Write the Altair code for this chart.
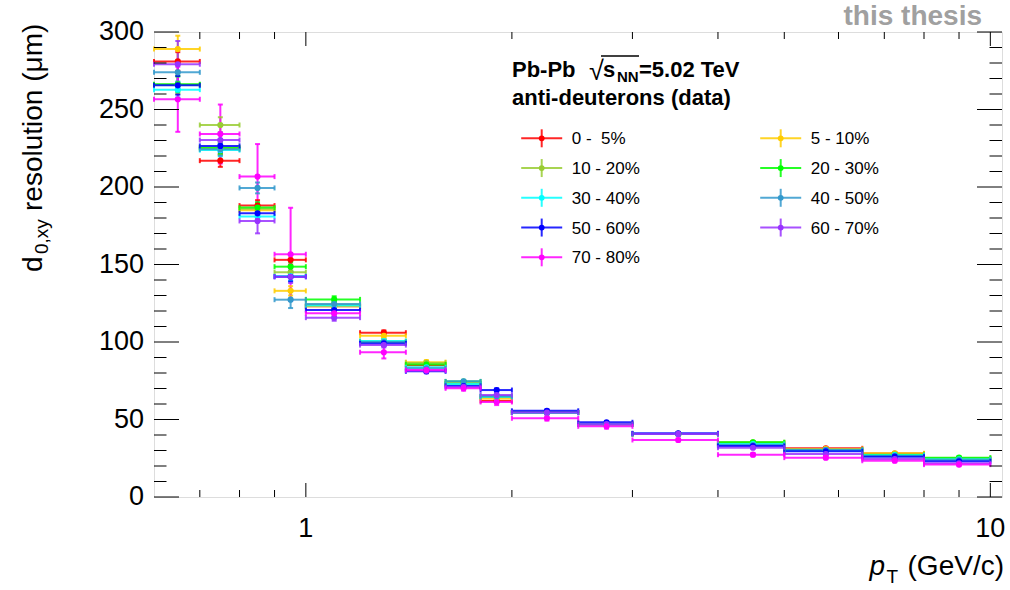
import altair as alt
import pandas as pd

# ---------------- data ----------------
edges = [0.6, 0.7, 0.8, 0.9, 1.0, 1.2, 1.4, 1.6, 1.8, 2.0, 2.5, 3.0, 4.0, 5.0, 6.5, 8.0, 10.0]

series = ["0-5", "5-10", "10-20", "20-30", "30-40", "40-50", "50-60", "60-70", "70-80"]
legend_labels = ["\u00a00 -\u00a0\u00a05%", "\u00a05 - 10%", "10 - 20%", "20 - 30%", "30 - 40%",
                 "40 - 50%", "50 - 60%", "60 - 70%", "70 - 80%"]
colors = ["#ff0000", "#ffcc00", "#99cc33", "#00ff00", "#00ffff",
          "#3399cc", "#0000ff", "#9933ff", "#ff00ff"]

y_0_5 = [281.0, 217.0, 188.0, 153.0, 123.0, 106.0, 85.0, 73.0, 62.0, 54.5, 47.0, 40.7, 34.5, 31.4, 28.0, 24.5]
y_5_10 = [289.0, 225.0, 185.0, 133.0, 123.0, 104.0, 87.0, 73.0, 63.5, 54.5, 47.0, 40.7, 35.0, 31.0, 28.2, 24.5]
y_10_20 = [266.0, 240.0, 186.0, 145.0, 124.0, 100.5, 86.5, 73.0, 64.5, 54.5, 47.0, 40.7, 35.3, 30.5, 27.5, 25.0]
y_20_30 = [266.3, 225.4, 186.7, 148.6, 127.5, 100.0, 85.5, 74.5, 65.0, 54.6, 47.0, 40.7, 35.3, 30.3, 27.1, 25.4]
y_30_40 = [262.8, 223.8, 180.9, 142.5, 123.5, 100.6, 83.7, 72.9, 64.7, 54.4, 46.9, 40.7, 34.2, 30.0, 27.0, 24.3]
y_40_50 = [274.0, 224.3, 199.4, 127.3, 124.5, 100.0, 83.0, 74.6, 65.0, 54.4, 46.9, 40.7, 33.5, 30.5, 26.5, 24.0]
y_50_60 = [265.6, 226.5, 183.0, 142.1, 120.6, 99.1, 81.1, 71.6, 69.0, 55.6, 48.2, 41.1, 32.9, 29.5, 26.0, 23.0]
y_60_70 = [279.2, 230.3, 178.1, 142.1, 115.7, 98.0, 81.5, 71.0, 65.8, 54.5, 47.0, 40.7, 31.8, 27.7, 24.5, 21.7]
y_70_80 = [256.6, 234.2, 206.7, 156.6, 118.5, 93.4, 81.9, 70.1, 61.3, 50.8, 45.6, 36.8, 27.3, 25.4, 23.4, 20.9]

e_0_5 = [6.0, 4.0, 3.5, 3.0, 2.0, 1.5, 1.2, 1.0, 1.0, 0.8, 0.7, 0.6, 0.6, 0.6, 0.6, 0.7]
e_5_10 = [8.6, 4.0, 3.5, 3.0, 2.0, 1.5, 1.2, 1.0, 1.0, 0.8, 0.7, 0.6, 0.6, 0.6, 0.6, 0.7]
e_10_20 = [6.0, 5.0, 3.5, 3.0, 2.0, 1.5, 1.2, 1.0, 1.0, 0.8, 0.7, 0.6, 0.6, 0.6, 0.6, 0.7]
e_20_30 = [5.0, 4.0, 3.5, 3.0, 2.0, 1.5, 1.2, 1.0, 1.0, 0.8, 0.7, 0.6, 0.6, 0.6, 0.6, 0.7]
e_30_40 = [5.0, 4.0, 3.5, 3.0, 2.0, 1.5, 1.2, 1.0, 1.0, 0.8, 0.7, 0.6, 0.6, 0.6, 0.6, 0.7]
e_40_50 = [6.0, 4.0, 3.5, 5.4, 2.0, 1.5, 1.2, 1.0, 1.0, 0.8, 0.7, 0.6, 0.6, 0.6, 0.6, 0.7]
e_50_60 = [6.0, 4.0, 3.5, 3.0, 2.0, 1.5, 1.2, 1.0, 1.0, 0.8, 0.7, 0.6, 0.6, 0.6, 0.6, 0.7]
e_60_70 = [15.0, 5.0, 8.0, 4.0, 2.0, 1.5, 1.2, 1.0, 1.0, 0.8, 0.7, 0.6, 0.6, 0.6, 0.6, 0.7]
e_70_80 = [21.0, 19.0, 21.0, 30.0, 3.0, 4.0, 2.0, 1.5, 2.0, 1.5, 1.5, 1.0, 1.0, 1.0, 1.0, 1.0]

values = [y_0_5, y_5_10, y_10_20, y_20_30, y_30_40, y_40_50, y_50_60, y_60_70, y_70_80]
errors = [e_0_5, e_5_10, e_10_20, e_20_30, e_30_40, e_40_50, e_50_60, e_60_70, e_70_80]

x_major = [1, 10]
x_major_labels = ["1", "10"]
x_minor = [0.7, 0.8, 0.9, 2, 3, 4, 5, 6, 7, 8, 9]
y_major = [0, 50, 100, 150, 200, 250, 300]
y_major_labels = ["0", "50", "100", "150", "200", "250", "300"]
y_minor = [10, 20, 30, 40, 60, 70, 80, 90, 110, 120, 130, 140, 160, 170, 180, 190,
           210, 220, 230, 240, 260, 270, 280, 290]

# ---------------- layout ----------------
W, H = 848, 465
PL, PT = 154, 32
FONT = "Liberation Sans"

rows = []
for i, s in enumerate(series):
    for j in range(len(edges) - 1):
        lo, hi = edges[j], edges[j + 1]
        v, e = values[i][j], errors[i][j]
        rows.append(dict(s=s, k=i, xlo=lo, xhi=hi, xc=(lo + hi) / 2, y=v, ylo=v - e, yhi=v + e))
df = pd.DataFrame(rows).sort_values(["k"]).reset_index(drop=True)

xs = alt.Scale(type="log", domain=[0.6, 10.4], nice=False)
ys = alt.Scale(domain=[0, 300], nice=False, zero=False)
col = alt.Color("s:N", scale=alt.Scale(domain=series, range=colors), legend=None)

base = alt.Chart(df)
SW = 2
OP = 0.85
hbar = base.mark_rule(strokeWidth=SW, opacity=OP).encode(
    x=alt.X("xlo:Q", scale=xs, axis=None), x2="xhi:Q",
    y=alt.Y("y:Q", scale=ys, axis=None), color=col)
vbar = base.mark_rule(strokeWidth=SW, opacity=OP).encode(
    x=alt.X("xc:Q", scale=xs, axis=None), y=alt.Y("ylo:Q", scale=ys, axis=None), y2="yhi:Q", color=col)
cap_l = base.mark_rule(strokeWidth=SW, opacity=OP, yOffset=-2.5, y2Offset=2.5).encode(
    x=alt.X("xlo:Q", scale=xs, axis=None), y=alt.Y("y:Q", scale=ys, axis=None), y2="y:Q", color=col)
cap_r = base.mark_rule(strokeWidth=SW, opacity=OP, yOffset=-2.5, y2Offset=2.5).encode(
    x=alt.X("xhi:Q", scale=xs, axis=None), y=alt.Y("y:Q", scale=ys, axis=None), y2="y:Q", color=col)
cap_t = base.mark_rule(strokeWidth=SW, opacity=OP, xOffset=-2.5, x2Offset=2.5).encode(
    x=alt.X("xc:Q", scale=xs, axis=None), x2="xc:Q", y=alt.Y("yhi:Q", scale=ys, axis=None), color=col)
cap_b = base.mark_rule(strokeWidth=SW, opacity=OP, xOffset=-2.5, x2Offset=2.5).encode(
    x=alt.X("xc:Q", scale=xs, axis=None), x2="xc:Q", y=alt.Y("ylo:Q", scale=ys, axis=None), color=col)
pts = base.mark_circle(size=38, opacity=1).encode(
    x=alt.X("xc:Q", scale=xs, axis=None), y=alt.Y("y:Q", scale=ys, axis=None), color=col)

layers = [hbar, vbar, cap_l, cap_r, cap_t, cap_b, pts]

# ---------------- ROOT-style inward ticks ----------------
def xticks(vals, length):
    d = alt.Chart(pd.DataFrame({"v": vals}))
    bot = d.mark_rule(color="black", strokeWidth=1).encode(
        x=alt.X("v:Q", scale=xs, axis=None), y=alt.value(H), y2=alt.value(H - length))
    top = d.mark_rule(color="black", strokeWidth=1).encode(
        x=alt.X("v:Q", scale=xs, axis=None), y=alt.value(0), y2=alt.value(length))
    return [bot, top]

def yticks(vals, length):
    d = alt.Chart(pd.DataFrame({"w": vals}))
    lft = d.mark_rule(color="black", strokeWidth=1).encode(
        y=alt.Y("w:Q", scale=ys, axis=None), x=alt.value(0), x2=alt.value(length))
    rgt = d.mark_rule(color="black", strokeWidth=1).encode(
        y=alt.Y("w:Q", scale=ys, axis=None), x=alt.value(W), x2=alt.value(W - length))
    return [lft, rgt]

layers += xticks(x_major, 14) + xticks(x_minor, 7) + yticks(y_major, 25) + yticks(y_minor, 12.5)

# tick labels
TLF = 27
xl = alt.Chart(pd.DataFrame({"v": x_major, "t": x_major_labels})).mark_text(
    fontSize=TLF, font=FONT, color="black", align="center", baseline="middle").encode(
    x=alt.X("v:Q", scale=xs, axis=None), y=alt.value(H + 32), text="t:N")
yl = alt.Chart(pd.DataFrame({"w": y_major, "t": y_major_labels})).mark_text(
    fontSize=TLF, font=FONT, color="black", align="right", baseline="middle").encode(
    y=alt.Y("w:Q", scale=ys, axis=None), x=alt.value(-10), text="t:N")
layers += [xl, yl]

# ---------------- text helpers ----------------
dummy = pd.DataFrame({"d": [0]})

def txt(s, x, y, size, bold=False, italic=False, align="left", baseline="alphabetic",
        angle=0, color="black"):
    kw = dict(text=s, fontSize=size, fontWeight="bold" if bold else "normal",
              fontStyle="italic" if italic else "normal", align=align, baseline=baseline,
              color=color, font=FONT)
    if angle:
        kw["angle"] = angle
    return alt.Chart(dummy).mark_text(**kw).encode(x=alt.value(x), y=alt.value(y))

# "this thesis"
layers.append(txt("this thesis", 982 - PL, 25 - PT, 28, bold=True, align="right", color="#a0a0a0"))

# legend header
layers.append(txt("Pb-Pb", 512 - PL, 77 - PT, 22, bold=True))
layers.append(txt("\u221a", 589 - PL, 80 - PT, 27))
layers.append(alt.Chart(dummy).mark_rule(color="black", strokeWidth=1.5).encode(
    x=alt.value(601 - PL), x2=alt.value(639 - PL), y=alt.value(56 - PT)))
layers.append(txt("s", 603 - PL, 77 - PT, 22, bold=True))
layers.append(txt("NN", 617 - PL, 82 - PT, 15, bold=True))
layers.append(txt("=5.02 TeV", 639 - PL, 77 - PT, 22, bold=True))
layers.append(txt("anti-deuterons (data)", 512 - PL, 105 - PT, 22, bold=True))

# legend entries
LX0, LY0, LDX, LDY = 541.7 - PL, 138.3 - PT, 239.0, 29.75
for i, (lab, c) in enumerate(zip(legend_labels, colors)):
    cx = LX0 + (i % 2) * LDX
    cy = LY0 + (i // 2) * LDY
    layers.append(alt.Chart(dummy).mark_rule(color=c, strokeWidth=2, opacity=OP).encode(
        x=alt.value(cx - 20.5), x2=alt.value(cx + 20.5), y=alt.value(cy)))
    layers.append(alt.Chart(dummy).mark_rule(color=c, strokeWidth=2, opacity=OP).encode(
        x=alt.value(cx), y=alt.value(cy - 9), y2=alt.value(cy + 9)))
    layers.append(alt.Chart(dummy).mark_circle(color=c, size=34, opacity=1).encode(
        x=alt.value(cx), y=alt.value(cy)))
    layers.append(txt(lab, cx + 30, cy + 1, 17, baseline="middle"))

# y-axis title (rotated)
layers.append(txt("d", 42 - PL, 272 - PT, 28, angle=270))
layers.append(txt("0,xy", 48 - PL, 254 - PT, 19, angle=270))
layers.append(txt("resolution (\u03bcm)", 42 - PL, 211 - PT, 28, angle=270))

# x-axis title
layers.append(txt("(GeV/c)", 1004 - PL, 575 - PT, 28, align="right"))
layers.append(txt("T", 898 - PL, 583 - PT, 19, align="right"))
layers.append(txt("p", 885 - PL, 575 - PT, 28, italic=True, align="right"))

chart = alt.layer(*layers).properties(
    width=W, height=H,
    autosize=alt.AutoSizeParams(type="none"),
    padding={"left": PL, "top": PT, "right": 1010 - PL - W, "bottom": 590 - PT - H},
    background="white",
).configure_view(stroke="black", strokeWidth=1).configure(font=FONT)

chart.save("out.html", embed_options={"renderer": "svg", "actions": False})
